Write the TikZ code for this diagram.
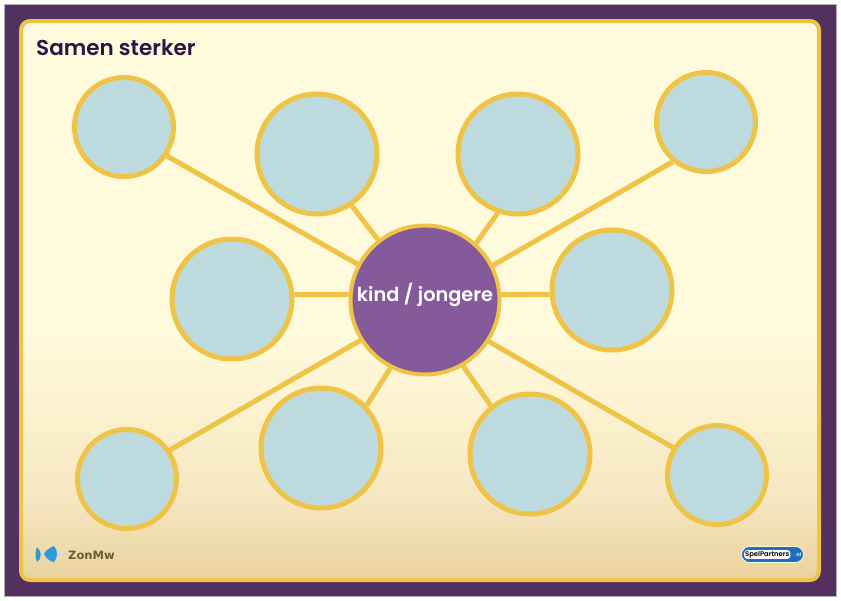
\documentclass[tikz,border=0pt]{standalone}
\usepackage{fontspec}
\setmainfont{Poppins}[BoldFont={Poppins SemiBold}]
\newfontfamily\logofont{DejaVu Sans}
\usepackage{tikz}
\definecolor{frame}{HTML}{53305F}
\definecolor{edge}{HTML}{EFC345}
\definecolor{bubble}{HTML}{BDDADF}
\definecolor{core}{HTML}{845A9A}
\definecolor{titleink}{HTML}{2E1248}
\definecolor{logoblue}{HTML}{2E9BD8}
\definecolor{pillblue}{HTML}{1F6FB8}
\definecolor{logobrown}{HTML}{6E5A2A}
\definecolor{paper1}{HTML}{FFFADC}
\definecolor{paper2}{HTML}{FCF3D0}
\definecolor{paper3}{HTML}{F5E6C0}
\definecolor{paper4}{HTML}{EAD29C}
\pgfdeclareverticalshading{paper}{100bp}{
	color(0bp)=(paper4); color(25bp)=(paper4); color(32bp)=(paper3); color(41bp)=(paper2); color(47bp)=(paper1); color(100bp)=(paper1)}

\begin{document}
\begin{tikzpicture}[x=1pt, y=-1pt]
	\tikzstyle{small} = [circle, draw=edge, line width=5pt, fill=bubble, minimum size=99pt, inner sep=0pt]
	\tikzstyle{big} = [small, minimum size=120pt]
	\tikzstyle{hub} = [circle, draw=edge, line width=4pt, fill=core, minimum size=149pt, inner sep=0pt, text=white, font=\bfseries\fontsize{19.3}{20}\selectfont]
	\useasboundingbox (0, 0) rectangle (841, 600);
	\fill [frame, draw=gray!60, line width=.5pt] (4, 4) rectangle (836, 596);
	\path [shading=paper, draw=edge, line width=4pt, rounded corners=9pt] (21, 21) rectangle (819, 580);
	\node [anchor=west, inner sep=0pt, text=titleink, font=\bfseries\fontsize{21.5}{22}\selectfont] (title) at (36, 48) {Samen sterker};
	\node [small] (a) at (124, 127) {};
	\node [big] (b) at (317, 154) {};
	\node [big] (c) at (518, 154) {};
	\node [small] (d) at (706, 122) {};
	\node [big] (e) at (232, 299) {};
	\node [big] (f) at (612, 290) {};
	\node [small] (g) at (127, 479) {};
	\node [big] (h) at (321, 448) {};
	\node [big] (i) at (530, 454) {};
	\node [small] (j) at (717, 475) {};
	\node [hub] (kind) at (425, 300) {\raisebox{15pt}{kind / jongere}};
	\foreach \to/\p/\q in {a/152.1/-34.9, b/128.7/-56, c/48.1/-109.3, d/27.9/-130.2, e/176.1/4.8, f/4.3/184.4, g/212.2/34, h/243/43, i/-60.5/129.8, j/-33/148}
	\draw [edge, line width=5pt] (kind.\p) -- (\to.\q);
	% logos
	\draw [logoblue!35, line width=.6pt] (36, 554) -- (63, 554);
	\draw [logoblue!35, line width=.6pt] (41, 559) .. controls (43, 565) and (52, 566) .. (55, 561);
	\fill [logoblue] (37, 547) .. controls (42, 551) and (42, 559) .. (37, 562) .. controls (35, 558) and (35, 551) .. (37, 547);
	\fill [logoblue] (54, 546) .. controls (47, 549) and (45, 552) .. (44, 554) .. controls (46, 558) and (50, 562) .. (54, 562) .. controls (58, 558) and (58, 550) .. (54, 546);
	\node [anchor=west, inner sep=0pt, text=logobrown, font=\logofont\bfseries\fontsize{11.5}{12}\selectfont] (zonmw) at (68, 555) {ZonMw};
	\node [rounded corners=8pt, fill=pillblue, draw=white!85!yellow, line width=.8pt, minimum width=62pt, minimum height=16pt, inner sep=0pt] (spel) at (772.5, 554.5) {};
	\node [rounded corners=3pt, fill=white, anchor=west, inner sep=1pt, text=black, font=\bfseries\fontsize{6.8}{7}\selectfont] (spelname) at (744, 554.5) {SpelPartners};
	\node [anchor=west, inner sep=0pt, text=white, font=\bfseries\fontsize{5}{6}\selectfont] (spelnl) at (795, 554.5) {.nl};
\end{tikzpicture}
\end{document}
